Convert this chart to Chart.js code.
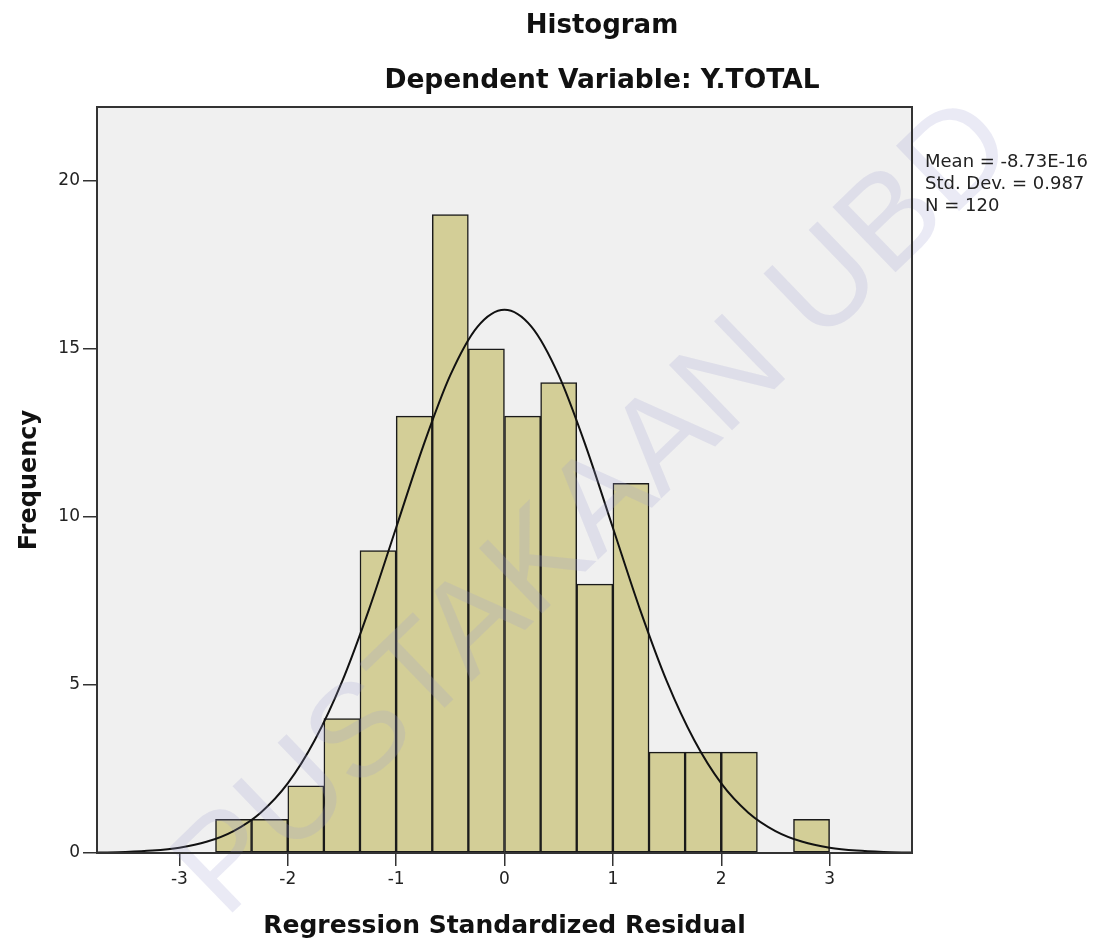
<!DOCTYPE html>
<html>
<head>
<meta charset="utf-8">
<script src="https://cdn.jsdelivr.net/npm/chart.js@4.4.1/dist/chart.umd.min.js"></script>
<style>
html, body { margin: 0; padding: 0; background: #fff; }
#wrap { width: 1106px; height: 946px; }
</style>
</head>
<body>
<div id="wrap"><canvas id="hist" width="1106" height="946"></canvas></div>
<script>
// Histogram bins (width 1/3), centres and frequencies
const binCenters = [-2.5, -2.167, -1.833, -1.5, -1.167, -0.833, -0.5, -0.167,
                    0.167, 0.5, 0.833, 1.167, 1.5, 1.833, 2.167, 2.5, 2.833];
const binCounts  = [1, 1, 2, 4, 9, 13, 19, 15, 13, 14, 8, 11, 3, 3, 3, 0, 1];

const curveX = [-3.75, -3.5, -3.25, -3, -2.75, -2.5, -2.25, -2, -1.75, -1.5, -1.25, -1, -0.75, -0.5, -0.25,
                0, 0.25, 0.5, 0.75, 1, 1.25, 1.5, 1.75, 2, 2.25, 2.5, 2.75, 3, 3.25, 3.5, 3.75];
const curveY = [0.012, 0.030, 0.071, 0.159, 0.333, 0.654, 1.20, 2.07, 3.36, 5.09, 7.25, 9.68, 12.11, 14.22, 15.66,
                16.17, 15.66, 14.22, 12.11, 9.68, 7.25, 5.09, 3.36, 2.07, 1.20, 0.654, 0.333, 0.159, 0.071, 0.030, 0.012];

const statsLines = ['Mean = -8.73E-16', 'Std. Dev. = 0.987', 'N = 120'];
const titleText = 'Histogram';
const subtitleText = 'Dependent Variable: Y.TOTAL';

const FONT = '"DejaVu Sans", "Liberation Sans", Arial, sans-serif';

// Plot background, frame, titles and the stats box
const plotFrame = {
    id: 'plotFrame',
    beforeDraw(chart) {
        const { ctx, chartArea: a } = chart;
        ctx.save();
        ctx.fillStyle = '#ffffff';
        ctx.fillRect(0, 0, chart.width, chart.height);
        ctx.fillStyle = '#f0f0f0';
        ctx.fillRect(a.left, a.top, a.right - a.left, a.bottom - a.top);
        ctx.restore();
    },
    afterDraw(chart) {
        const { ctx, chartArea: a } = chart;
        ctx.save();

        // faint library watermark
        ctx.save();
        ctx.translate(597, 510);
        ctx.rotate(-44 * Math.PI / 180);
        ctx.font = '132px "Liberation Sans", Arial, sans-serif';
        ctx.textAlign = 'center';
        ctx.textBaseline = 'middle';
        ctx.fillStyle = 'rgba(160, 160, 210, 0.22)';
        ctx.fillText('PUSTAKAAN UBD', 0, 0);
        ctx.restore();

        ctx.strokeStyle = '#333333';
        ctx.lineWidth = 2;
        ctx.strokeRect(a.left, a.top, a.right - a.left, a.bottom - a.top);

        ctx.fillStyle = '#111111';
        ctx.textAlign = 'center';
        ctx.textBaseline = 'alphabetic';
        ctx.font = 'bold 26px ' + FONT;
        ctx.fillText(titleText, 602, 33);
        ctx.font = 'bold 26.5px ' + FONT;
        ctx.fillText(subtitleText, 602, 88);

        ctx.textAlign = 'left';
        ctx.font = '18px ' + FONT;
        ctx.fillStyle = '#222222';
        statsLines.forEach((line, i) => ctx.fillText(line, 925, 167 + i * 21.8));
        ctx.restore();
    },
};

new Chart(document.getElementById('hist'), {
    type: 'bar',
    data: {
        datasets: [
            {
                type: 'line',
                data: curveX.map((x, i) => ({ x, y: curveY[i] })),
                borderColor: '#111111',
                borderWidth: 2,
                pointRadius: 0,
                fill: false,
                cubicInterpolationMode: 'monotone',
                order: 0,
            },
            {
                type: 'bar',
                data: binCenters.map((x, i) => ({ x, y: binCounts[i] })),
                backgroundColor: '#d3ce97',
                borderColor: '#1a1a1a',
                borderWidth: 1.5,
                borderSkipped: false,
                barPercentage: 1,
                categoryPercentage: 1,
                grouped: false,
                order: 1,
            },
        ],
    },
    options: {
        responsive: false,
        animation: false,
        devicePixelRatio: 1,
        layout: { padding: { top: 107, right: 194, left: 0, bottom: 0 } },
        plugins: {
            legend: { display: false },
            tooltip: { enabled: false },
        },
        scales: {
            x: {
                type: 'linear',
                min: -3.76,
                max: 3.76,
                offset: false,
                afterFit: (scale) => { scale.height = 93; },
                grid: { offset: false, drawOnChartArea: false, drawTicks: true, tickLength: 13, color: '#333333', lineWidth: 1.5 },
                border: { display: false },
                ticks: {
                    stepSize: 1,
                    includeBounds: false,
                    padding: 3,
                    color: '#222222',
                    font: { family: FONT, size: 17 },
                },
                title: {
                    display: true,
                    text: 'Regression Standardized Residual',
                    color: '#111111',
                    font: { family: FONT, size: 25, weight: 'bold' },
                    padding: { top: 0, bottom: 5 },
                },
            },
            y: {
                min: 0,
                max: 22.2,
                afterFit: (scale) => { scale.width = 97; },
                grid: { drawOnChartArea: false, drawTicks: true, tickLength: 14, color: '#333333', lineWidth: 1.5 },
                border: { display: false },
                ticks: {
                    stepSize: 5,
                    includeBounds: false,
                    padding: 3,
                    color: '#222222',
                    font: { family: FONT, size: 17 },
                },
                title: {
                    display: true,
                    text: 'Frequency',
                    color: '#111111',
                    font: { family: FONT, size: 24, weight: 'bold' },
                    padding: { top: 15, bottom: 0 },
                },
            },
        },
    },
    plugins: [plotFrame],
});
</script>
</body>
</html>
